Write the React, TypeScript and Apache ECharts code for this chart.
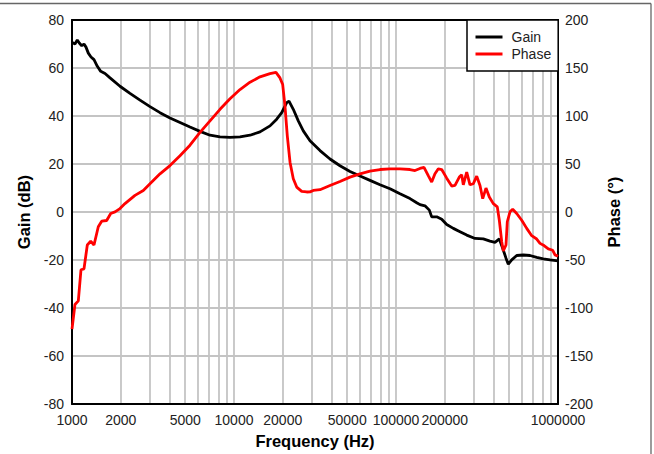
import React, { useEffect, useRef } from "react";
import * as echarts from "echarts";

const gainFreq = [
  1000, 1010, 1043, 1078, 1109, 1148, 1186, 1220, 1261, 1310, 1367, 1433, 1504, 1599, 1717, 1978,
  2280, 2629, 3030, 3493, 4026, 4642, 5350, 6168, 7110, 8196, 9447, 10890, 12556, 14473, 16681,
  18345, 19703, 21150, 21853, 23228, 24942, 26776, 29450, 33960, 39140, 45110, 52000, 59950, 69100,
  79650, 91830, 105850, 122000, 134200, 140600, 151000, 160600, 166100, 178400, 191500, 205600,
  225800, 248400, 273200, 307400, 345900, 380400, 408400, 434200, 455600, 477500, 493400, 517900,
  556000, 610700, 671800, 738700, 811700, 892500, 1000000,
];
const gainDb = [
  70.4, 70.6, 70, 71.7, 70.4, 69.3, 70, 68.7, 66.2, 64.6, 63.5, 60.7, 58.6, 57.7, 55.9, 52.4,
  49.4, 46.6, 43.9, 41.4, 39.2, 37.3, 35.4, 33.6, 32, 31.3, 31.1, 31.3, 32, 33.4, 35.9,
  38.7, 41.4, 45.6, 46.2, 42.8, 38, 33.8, 29.7, 25.6, 22.1, 19.3, 16.9, 15, 13.2,
  11.4, 9.7, 7.6, 5.6, 3.9, 3.1, 2.6, 0.8, -2, -2, -3, -5.2,
  -6.8, -8.2, -9.6, -11, -11.2, -12.1, -12.6, -11.2, -15.1, -19.2, -21.7, -19.9,
  -18.1, -17.9, -18.1, -18.9, -19.5, -19.9, -20.3,
];

const phaseFreq = [
  1000, 1043, 1094, 1136, 1186, 1243, 1304, 1367, 1453, 1525, 1637, 1734, 1843, 1978, 2124, 2448,
  2755, 3030, 3493, 4026, 4642, 5350, 6168, 7110, 8196, 9447, 10890, 12556, 14473, 16681, 18160,
  19230, 19980, 20640, 21330, 22170, 23228, 24380, 26180, 28110, 29450, 30870, 33960, 39140, 45110,
  52000, 59950, 69100, 79650, 91830, 105850, 122000, 131000, 140600, 148900, 158200, 166100, 174000,
  182500, 191500, 205600, 220700, 231300, 245900, 254400, 260300, 273200, 286300, 300100, 314900,
  330000, 343000, 359300, 376700, 398700, 422000, 434200, 449300, 459600, 477500, 486400, 505500,
  525300, 556000, 597000, 641000, 688200, 738700, 774300, 819700, 871200, 927500, 958300, 1000000,
];
const phaseDeg = [
  -122, -96.3, -92.5, -60.1, -59.1, -34.3, -30.2, -34.3, -15.3, -9.5, -8.8, -1.5, 0.2, 3.6, 8.8, 17.4,
  22.5, 29.5, 39.8, 48.4, 58.7, 69.6, 82.9, 94.9, 107, 118, 127.6, 135.2, 140.8, 144.2, 145.5,
  139.7, 132.8, 110.4, 79.4, 51.9, 34.6, 26, 21.5, 20.9, 21, 22.5, 23.3, 27.7, 31.8,
  36.4, 39.8, 42.6, 44.3, 45, 45, 44.3, 43.2, 45.4, 46.5, 38, 31.2, 39.8,
  45, 44.3, 35.3, 27.1, 27.7, 36.4, 38.8, 28.4, 41.6, 28.4, 29.5, 37.4,
  27.7, 13.9, 25, 15.7, 8.8, 5.4, -8.5, -30.8, -40.5, -34.3, -10.1, 0.2,
  2.9, -1.5, -8.5, -17, -24.6, -28.1, -32.6, -34.9, -38.4, -39.8, -44.6, -46,
];

const freqLabels = [1000, 2000, 5000, 10000, 20000, 50000, 100000, 200000, 1000000];
const freqGridLines = [
  2000, 3000, 4000, 5000, 6000, 7000, 8000, 9000, 10000,
  20000, 30000, 40000, 50000, 60000, 70000, 80000, 90000, 100000,
  200000, 300000, 400000, 500000, 600000, 700000, 800000, 900000,
];

const FONT = "'Liberation Sans', Arial, sans-serif";

export default function App() {
  const ref = useRef<HTMLDivElement>(null);

  useEffect(() => {
    if (!ref.current) return;
    const chart = echarts.init(ref.current, undefined, { renderer: "svg" });
    const lg = (v: number) => Math.log10(v);
    const gridColor = "#c4c4c4";

    chart.setOption({
      animation: false,
      backgroundColor: "#fff",
      textStyle: { fontFamily: FONT },
      grid: { left: 72, right: 96, top: 20, bottom: 47, containLabel: false },
      legend: {
        left: 467,
        top: 20,
        orient: "vertical",
        backgroundColor: "#fff",
        borderColor: "#000",
        borderWidth: 1.5,
        borderRadius: 0,
        padding: [9, 7, 9, 8.5],
        itemGap: 1,
        itemWidth: 27,
        itemHeight: 3,
        icon: "rect",
        textStyle: { fontFamily: FONT, fontSize: 14, color: "#222", lineHeight: 16, padding: [0, 0, 0, 4] },
        data: ["Gain", "Phase"],
      },
      graphic: [
        { type: "line", shape: { x1: 0, y1: 3.5, x2: 651, y2: 3.5 }, style: { stroke: "#666", lineWidth: 1.3 } },
        { type: "line", shape: { x1: 651, y1: 3.5, x2: 651, y2: 454 }, style: { stroke: "#666", lineWidth: 1.3 } },
      ],
      xAxis: [
        {
          type: "value",
          min: 3,
          max: 6,
          position: "bottom",
          name: "Frequency (Hz)",
          nameLocation: "middle",
          nameGap: 23,
          nameTextStyle: { fontFamily: FONT, fontSize: 16.5, fontWeight: "bold", color: "#000" },
          axisLine: { show: true, onZero: false, lineStyle: { color: "#000", width: 2 } },
          axisTick: { show: false, customValues: freqGridLines.map(lg) },
          axisLabel: {
            customValues: freqLabels.map(lg),
            margin: 9,
            fontFamily: FONT,
            fontSize: 14,
            color: "#222",
            formatter: (v: number) => String(Math.round(Math.pow(10, v))),
          },
          splitLine: { show: true, lineStyle: { color: gridColor, width: 1.8 } },
        },
        {
          type: "value",
          min: 3,
          max: 6,
          position: "top",
          axisLine: { show: true, onZero: false, lineStyle: { color: "#000", width: 2 } },
          axisTick: { show: false },
          axisLabel: { show: false },
          splitLine: { show: false },
        },
      ],
      yAxis: [
        {
          type: "value",
          min: -80,
          max: 80,
          interval: 20,
          position: "left",
          name: "Gain (dB)",
          nameLocation: "middle",
          nameRotate: 90,
          nameGap: 38,
          nameTextStyle: { fontFamily: FONT, fontSize: 16.5, fontWeight: "bold", color: "#000" },
          axisLine: { show: true, onZero: false, lineStyle: { color: "#000", width: 2 } },
          axisTick: { show: false },
          axisLabel: { margin: 8, fontFamily: FONT, fontSize: 14, color: "#222" },
          splitLine: { show: true, showMinLine: false, showMaxLine: false, lineStyle: { color: gridColor, width: 1.8 } },
        },
        {
          type: "value",
          min: -200,
          max: 200,
          interval: 50,
          position: "right",
          name: "Phase (°)",
          nameLocation: "middle",
          nameRotate: 90,
          nameGap: 47,
          nameTextStyle: { fontFamily: FONT, fontSize: 16.5, fontWeight: "bold", color: "#000" },
          axisLine: { show: true, onZero: false, lineStyle: { color: "#000", width: 2 } },
          axisTick: { show: false },
          axisLabel: { margin: 7, fontFamily: FONT, fontSize: 14, color: "#222" },
          splitLine: { show: false },
        },
      ],
      series: [
        {
          name: "Gain",
          type: "line",
          xAxisIndex: 0,
          yAxisIndex: 0,
          showSymbol: false,
          symbol: "none",
          lineStyle: { color: "#000", width: 2.8 },
          itemStyle: { color: "#000" },
          data: gainFreq.map((f, i) => [lg(f), gainDb[i]]),
        },
        {
          name: "Phase",
          type: "line",
          xAxisIndex: 0,
          yAxisIndex: 1,
          showSymbol: false,
          symbol: "none",
          lineStyle: { color: "#ff0000", width: 2.8 },
          itemStyle: { color: "#ff0000" },
          data: phaseFreq.map((f, i) => [lg(f), phaseDeg[i]]),
        },
      ],
    });

    return () => chart.dispose();
  }, []);

  return (
    <div
      ref={ref}
      style={{ position: "fixed", left: 0, top: 0, width: 654, height: 454, background: "#fff" }}
    />
  );
}
